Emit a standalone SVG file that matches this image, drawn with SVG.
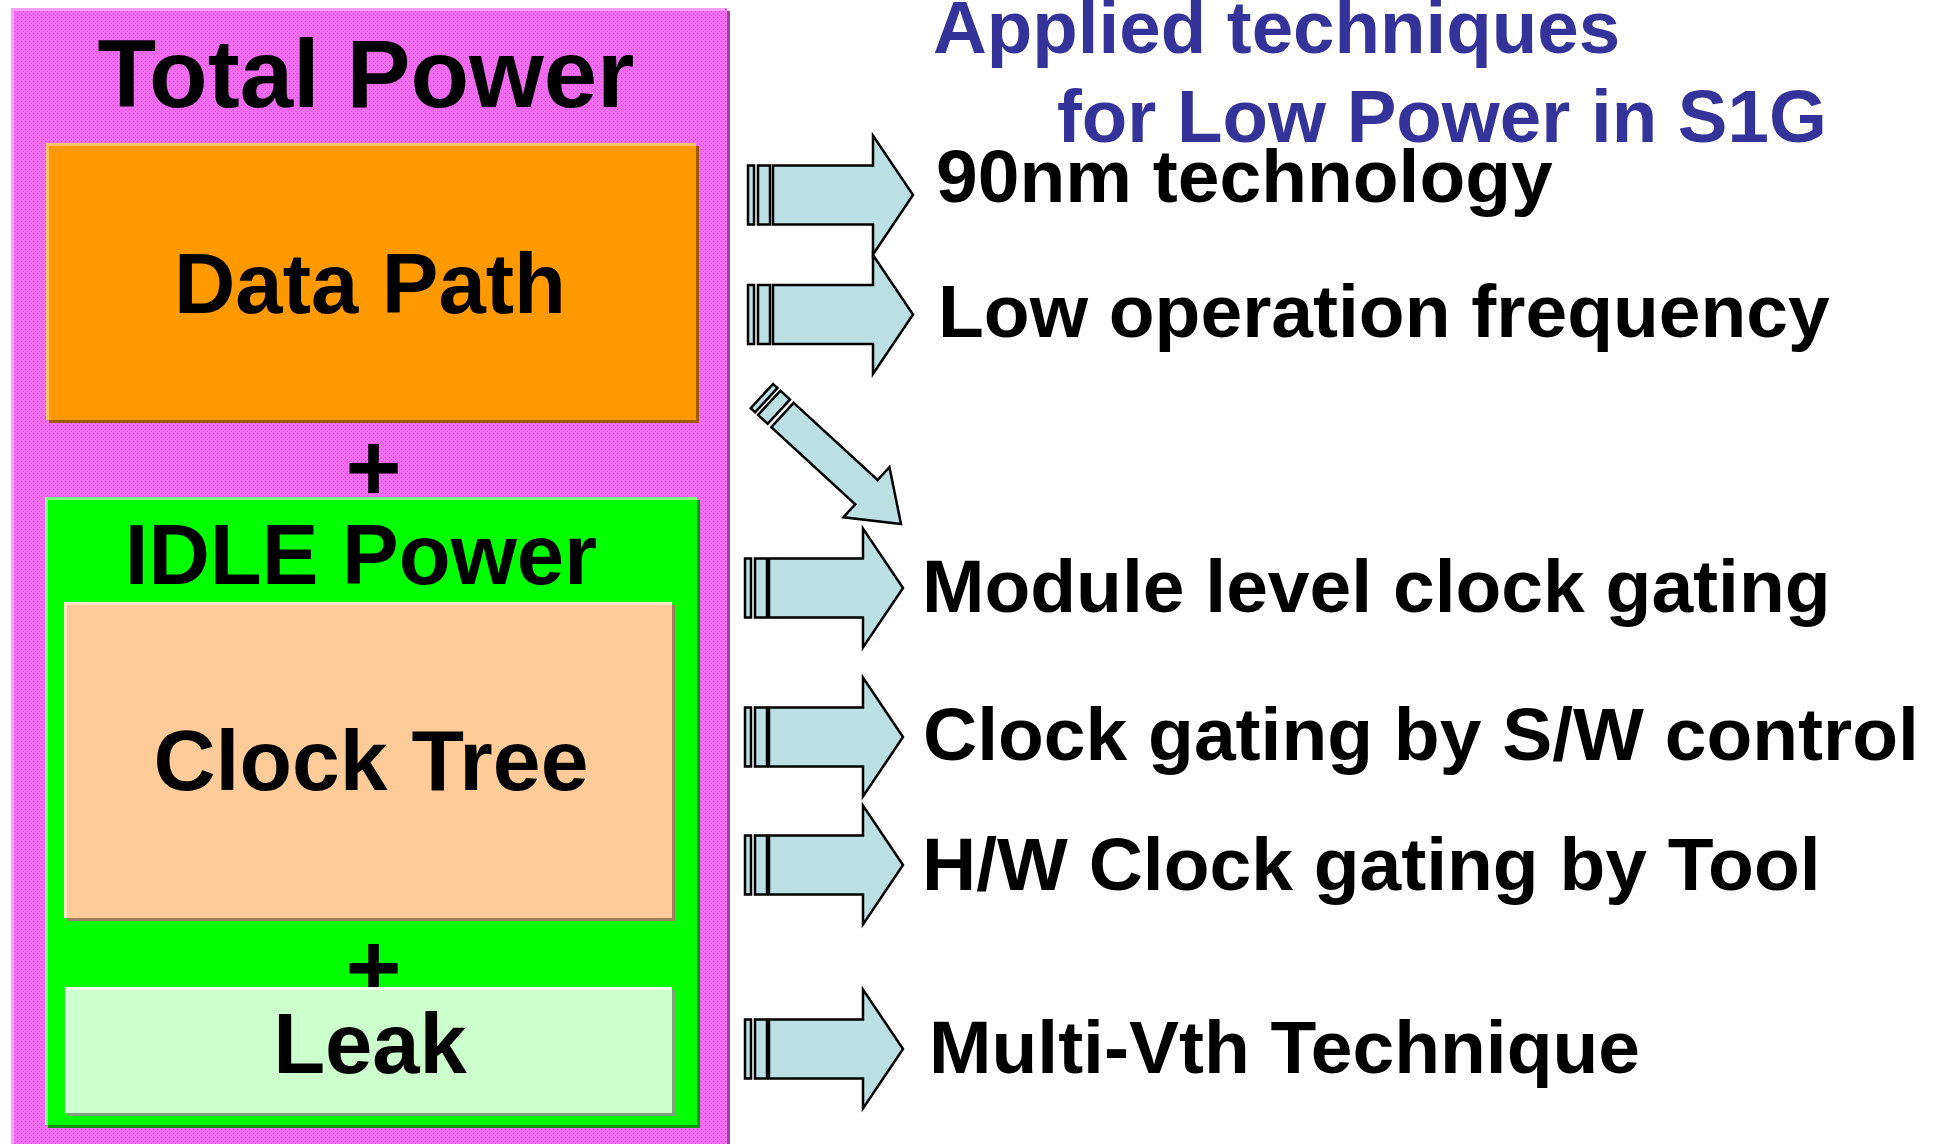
<svg xmlns="http://www.w3.org/2000/svg" width="1933" height="1144" viewBox="0 0 1933 1144">
<style>
text{font-family:"Liberation Sans",Arial,sans-serif;font-weight:bold;fill:#000}
.big{font-size:85px;text-anchor:middle}
.item{font-size:75px}
.title{font-size:74.5px;fill:#333399}
.arrow{fill:#BBE0E3;stroke:#000;stroke-width:2.5;stroke-linejoin:miter}
.hl{fill:none;stroke-width:3}
</style>
<defs>
<pattern id="tex" width="4" height="4" patternUnits="userSpaceOnUse">
<rect width="4" height="4" fill="#F26CF2"/>
<rect x="1" y="1" width="1" height="1" fill="#D850D8"/>
<rect x="3" y="3" width="1" height="1" fill="#E25EE2"/>
</pattern>
<g id="harrow">
<rect class="arrow" x="0" y="-29.5" width="6" height="59"/>
<rect class="arrow" x="10" y="-29.5" width="12" height="59"/>
</g>
</defs>
<g id="total-power">
<rect x="14" y="11" width="716" height="1140" fill="#A040A0"/>
<rect x="11" y="8" width="716" height="1140" fill="url(#tex)"/>
<path class="hl" d="M12.5,1144 V9.5 H725" stroke="#FAA0FA"/>
<text x="366" y="107" style="font-size:96px;text-anchor:middle">Total Power</text>
</g>
<g id="data-path">
<rect x="49" y="146" width="650" height="277" fill="#9E5A00"/>
<rect x="46" y="143" width="650" height="277" fill="#FF9900"/>
<path class="hl" d="M47.5,420 V144.5 H696" stroke="#FFC266"/>
<text class="big" x="370" y="313">Data Path</text>
</g>
<text class="big" x="373.5" y="501" style="font-size:96px">+</text>
<g id="idle-power">
<rect x="48" y="500" width="652" height="628" fill="#009A00"/>
<rect x="45" y="497" width="652" height="628" fill="#00FF00"/>
<path class="hl" d="M46.5,1125 V498.5 H697" stroke="#80FF80"/>
<text class="big" x="361" y="584">IDLE Power</text>
</g>
<g id="clock-tree">
<rect x="67" y="605" width="608" height="316" fill="#A08060"/>
<rect x="64" y="602" width="608" height="316" fill="#FFCC99"/>
<path class="hl" d="M65.5,918 V603.5 H672" stroke="#FFE4C8"/>
<text class="big" x="371" y="790" style="font-size:86px">Clock Tree</text>
</g>
<text class="big" x="373.5" y="1001" style="font-size:96px">+</text>
<g id="leak">
<rect x="68" y="990" width="607" height="126" fill="#80A080"/>
<rect x="65" y="987" width="607" height="126" fill="#CCFFCC"/>
<path class="hl" d="M66.5,1113 V988.5 H672" stroke="#EEFFEE"/>
<text class="big" x="370" y="1073">Leak</text>
</g>
<g id="title">
<text class="title" x="933" y="53">Applied techniques</text>
<text class="title" x="1057" y="142">for Low Power in S1G</text>
</g>
<g id="connectors">
<g transform="translate(748,195)"><use href="#harrow"/><polygon class="arrow" points="25,-29.5 125,-29.5 125,-59.5 165,0 125,59.5 125,29.5 25,29.5"/></g>
<g transform="translate(748,314.5)"><use href="#harrow"/><polygon class="arrow" points="25,-29.5 125,-29.5 125,-59.5 165,0 125,59.5 125,29.5 25,29.5"/></g>
<g transform="translate(782.5,415) rotate(42.6)">
<rect class="arrow" x="-28" y="-16.5" width="6" height="33"/>
<rect class="arrow" x="-18" y="-16.5" width="13" height="33"/>
<polygon class="arrow" points="0,-16.5 114,-16.5 114,-34 161,0 114,34 114,16.5 0,16.5"/>
</g>
<g transform="translate(745,588)"><use href="#harrow"/><polygon class="arrow" points="24,-29.5 118,-29.5 118,-59.5 158,0 118,59.5 118,29.5 24,29.5"/></g>
<g transform="translate(745,737)"><use href="#harrow"/><polygon class="arrow" points="24,-29.5 118,-29.5 118,-59.5 158,0 118,59.5 118,29.5 24,29.5"/></g>
<g transform="translate(745,865)"><use href="#harrow"/><polygon class="arrow" points="24,-29.5 118,-29.5 118,-59.5 158,0 118,59.5 118,29.5 24,29.5"/></g>
<g transform="translate(745,1049)"><use href="#harrow"/><polygon class="arrow" points="24,-29.5 118,-29.5 118,-59.5 158,0 118,59.5 118,29.5 24,29.5"/></g>
</g>
<g id="techniques">
<text class="item" x="936" y="202">90nm technology</text>
<text class="item" x="938" y="337">Low operation frequency</text>
<text class="item" x="922" y="612">Module level clock gating</text>
<text class="item" x="923" y="760">Clock gating by S/W control</text>
<text class="item" x="922" y="890">H/W Clock gating by Tool</text>
<text class="item" x="929" y="1073">Multi-Vth Technique</text>
</g>
</svg>
